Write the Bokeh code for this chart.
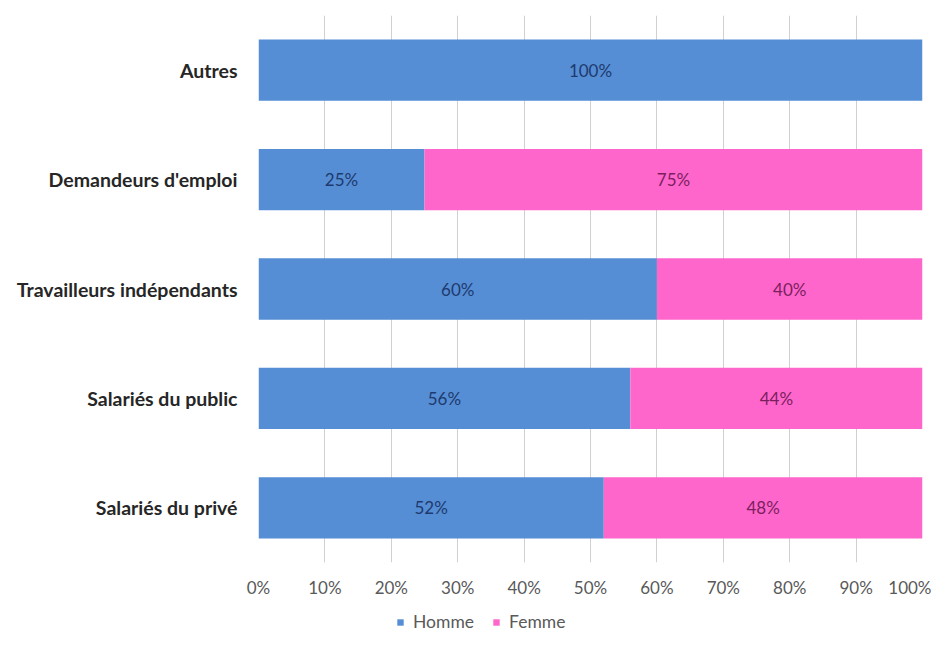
from bokeh.plotting import figure
from bokeh.layouts import column
from bokeh.models import (FactorRange, Range1d, FixedTicker, ColumnDataSource,
                          Legend, LegendItem)
from bokeh.core.properties import value
from bokeh.embed import file_html
from bokeh.resources import INLINE

categories = ["Salariés du privé", "Salariés du public", "Travailleurs indépendants",
              "Demandeurs d'emploi", "Autres"]
homme = [52, 56, 60, 25, 100]
femme = [48, 44, 40, 75, 0]
series = ["Homme", "Femme"]
colors = ["#558ED5", "#FF66CC"]
label_colors = ["#1F3A6E", "#7A1F5E"]
tick_values = [0, 10, 20, 30, 40, 50, 60, 70, 80, 90, 100]
tick_labels = [f"{t}%" for t in tick_values]

FONT = "Lato"

src = ColumnDataSource(dict(cat=categories, Homme=homme, Femme=femme))

p = figure(width=931, height=600, y_range=FactorRange(factors=categories, range_padding=0),
           x_range=Range1d(0, 100), output_backend="svg", toolbar_location=None,
           min_border_left=258, min_border_right=9, min_border_top=15, min_border_bottom=37)
p.outline_line_color = None
p.background_fill_color = "white"

rs = p.hbar_stack(series, y="cat", height=0.56, color=colors, line_color=None, source=src)

# value labels
hx, hy, ht = [], [], []
fx, fy, ft = [], [], []
for c, h, f in zip(categories, homme, femme):
    if h > 0:
        hx.append(h / 2); hy.append(c); ht.append(f"{h}%")
    if f > 0:
        fx.append(h + f / 2); fy.append(c); ft.append(f"{f}%")
p.text(x=hx, y=hy, text=ht, text_align="center", text_baseline="middle",
       text_font=value(FONT), text_font_size="17px", text_color=label_colors[0])
p.text(x=fx, y=fy, text=ft, text_align="center", text_baseline="middle",
       text_font=value(FONT), text_font_size="17px", text_color=label_colors[1])

# axes
p.xaxis.ticker = FixedTicker(ticks=tick_values)
p.xaxis.major_label_overrides = {t: l for t, l in zip(tick_values, tick_labels)}
p.xaxis.axis_line_color = None
p.xaxis.major_tick_line_color = None
p.xaxis.minor_tick_line_color = None
p.xaxis.major_label_standoff = 8
p.xaxis.major_label_text_font = FONT
p.xaxis.major_label_text_font_size = "17px"
p.xaxis.major_label_text_color = "#595959"

p.yaxis.axis_line_color = None
p.yaxis.major_tick_line_color = None
p.yaxis.major_label_standoff = 15
p.yaxis.major_label_text_font = FONT
p.yaxis.major_label_text_font_size = "19.5px"
p.yaxis.major_label_text_font_style = "bold"
p.yaxis.major_label_text_color = "#262626"

p.xgrid.grid_line_color = "#D0D0D0"
p.xgrid.grid_line_width = 1
p.ygrid.grid_line_color = None

# legend strip below the chart (swatch renderers hold no drawable data)
nan = float("nan")
lg = figure(width=931, height=32, output_backend="svg", toolbar_location=None,
            x_axis_type=None, y_axis_type=None, min_border=0,
            x_range=Range1d(0, 1), y_range=Range1d(0, 1))
lg.outline_line_color = None
lg.grid.visible = False
swatches = [lg.hbar(y=[nan], right=[nan], height=0.5, color=c, line_color=None) for c in colors]
legend = Legend(items=[LegendItem(label=s, renderers=[r]) for s, r in zip(series, swatches)],
                orientation="horizontal", location=(138, 0), padding=0, margin=0,
                spacing=18, glyph_width=8, glyph_height=8, label_standoff=9,
                label_height=20,
                label_text_font=FONT, label_text_font_size="17.5px", label_text_color="#595959",
                border_line_color=None, background_fill_alpha=0)
lg.add_layout(legend, "center")

layout = column(p, lg, spacing=0)

open("out.html", "w").write(file_html(layout, INLINE))
